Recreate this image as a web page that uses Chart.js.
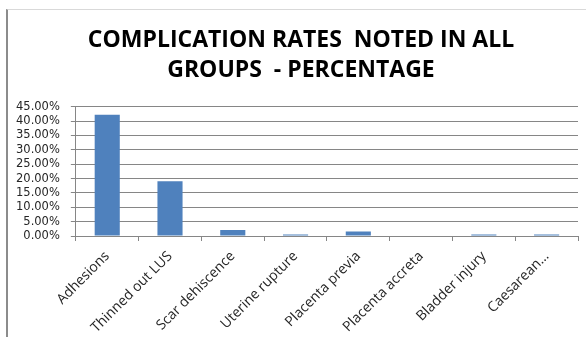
<!DOCTYPE html>
<html>
<head>
<meta charset="utf-8">
<script src="https://cdn.jsdelivr.net/npm/chart.js@4"></script>
<style>
    body { margin: 0; background: #fff; }
    #wrap { position: relative; width: 586px; height: 337px; overflow: hidden; }
    #frame { position: absolute; left: 6px; top: 9px; right: -10px; bottom: -10px;
             border-left: 2px solid #8c8c8c; border-top: 1px solid #d9d9d9; }
    canvas { position: absolute; left: 0; top: 0; }
</style>
</head>
<body>
<div id="wrap">
    <div id="frame"></div>
    <canvas id="chart" width="586" height="337"></canvas>
</div>
<script>
const categories = ['Adhesions', 'Thinned out LUS', 'Scar dehiscence', 'Uterine rupture',
    'Placenta previa', 'Placenta accreta', 'Bladder injury', 'Caesarean…'];
const rates = [42.2, 19.1, 2.1, 0.5, 1.6, 0, 0.5, 0.5];
const yMax = 45;
const yStep = 5;
const titleLines = ['COMPLICATION RATES  NOTED IN ALL', 'GROUPS  - PERCENTAGE'];

document.addEventListener('DOMContentLoaded', function() {
    const ctx = document.getElementById('chart').getContext('2d');

    new Chart(ctx, {
        type: 'bar',
        data: {
            labels: categories,
            datasets: [{
                label: 'Complication rate',
                data: rates,
                backgroundColor: '#4f81bd',
                categoryPercentage: 1,
                barPercentage: 0.4
            }]
        },
        options: {
            responsive: false,
            animation: false,
            // right padding is negative so the title is centred like the original
            layout: {
                padding: { left: 5, right: -11, top: 0, bottom: 0 }
            },
            scales: {
                x: {
                    afterFit: function(scale) { scale.height = 101; },
                    grid: {
                        drawOnChartArea: false,
                        offset: true,
                        color: '#868686',
                        tickLength: 5
                    },
                    border: { color: '#868686' },
                    ticks: {
                        minRotation: 45,
                        maxRotation: 45,
                        padding: 7,
                        color: '#262626',
                        font: { family: 'Open Sans', size: 14 }
                    }
                },
                y: {
                    min: 0,
                    max: yMax,
                    grid: {
                        color: '#868686',
                        tickLength: 5
                    },
                    border: { color: '#868686' },
                    ticks: {
                        stepSize: yStep,
                        autoSkip: false,
                        padding: 11,
                        color: '#262626',
                        font: { family: 'DejaVu Sans', size: 11.5 },
                        callback: function(value) {
                            return value.toFixed(2) + '%';
                        }
                    }
                },
                // empty margin on the right of the plot
                spacer: {
                    type: 'linear',
                    position: 'right',
                    afterFit: function(scale) { scale.width = 19; },
                    grid: { display: false },
                    border: { display: false },
                    ticks: { display: false }
                }
            },
            plugins: {
                legend: { display: false },
                tooltip: { enabled: false },
                title: {
                    display: true,
                    text: titleLines,
                    color: '#000',
                    font: { family: 'Open Sans', size: 23, weight: 'bold', lineHeight: 1.3 },
                    padding: { top: 26, bottom: 21 }
                }
            }
        }
    });
});
</script>
</body>
</html>
